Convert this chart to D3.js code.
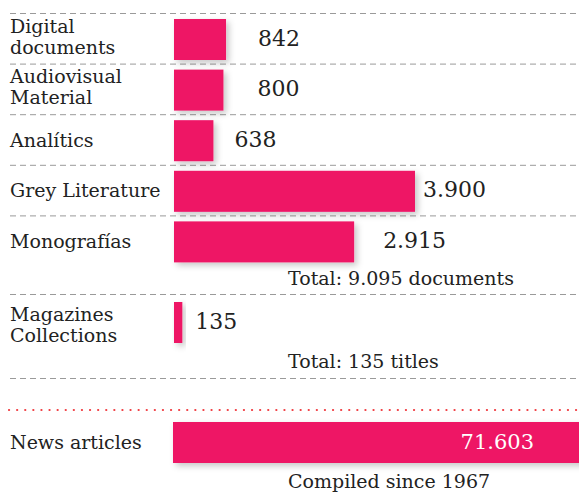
<!DOCTYPE html>
<html>
<head>
<meta charset="utf-8">
<script src="https://cdn.jsdelivr.net/npm/d3@7"></script>
<style>
  body { margin: 0; background: #fff; }
</style>
</head>
<body>
<div id="chart"></div>
<script>
// Data
const docCategories = ["Digital documents", "Audiovisual Material", "Analítics", "Grey Literature", "Monografías"];
const docLabelLines = [["Digital", "documents"], ["Audiovisual", "Material"], ["Analítics"], ["Grey Literature"], ["Monografías"]];
const docValues = [842, 800, 638, 3900, 2915];
const magCategory = ["Magazines Collections"];
const magLabelLines = [["Magazines", "Collections"]];
const magValues = [135];
const newsCategory = ["News articles"];
const newsValues = [71603];
const newsNote = "Compiled since 1967";

// layout: extra gap between bar end and its value label
const valueGap = [32, 34, 21, 8, 29];
const magValueGap = [13];

window.onload = function () {
  const W = 579, H = 497;
  const pink = "#ee1465";
  const ink = "#222";
  const font = "'DejaVu Serif', Georgia, serif";
  const x0 = 174, labelX = 10, noteX = 288;

  const es = d3.formatLocale({ decimal: ",", thousands: ".", grouping: [3], currency: ["", ""] });
  const fmt = es.format(",d");

  const svg = d3.select("#chart").append("svg")
    .attr("width", W).attr("height", H)
    .style("font-family", font);

  const defs = svg.append("defs");
  defs.append("filter").attr("id", "shadow")
    .attr("x", "-20%").attr("y", "-30%").attr("width", "160%").attr("height", "180%")
    .append("feDropShadow")
    .attr("dx", 3).attr("dy", 3).attr("stdDeviation", 3)
    .attr("flood-color", "#000").attr("flood-opacity", 0.22);

  // scales
  const x = d3.scaleLinear().domain([0, 3900]).range([0, 241]);
  const xNews = d3.scaleLinear().domain([0, 71603]).range([0, 420]);
  const y = d3.scaleBand().domain(docCategories).range([13, 266]).paddingInner(0);
  const barPad = 6, barH = 41;

  function dashed(yy) {
    svg.append("line")
      .attr("x1", labelX).attr("x2", W)
      .attr("y1", yy).attr("y2", yy)
      .attr("stroke", "#9a9a9a").attr("stroke-width", 1)
      .attr("stroke-dasharray", "6,4");
  }

  // separators
  docCategories.forEach(c => dashed(y(c) + 0.5));
  dashed(294.5);
  dashed(378.5);

  // red dotted line
  svg.append("line")
    .attr("x1", 9).attr("x2", W).attr("y1", 410).attr("y2", 410)
    .attr("stroke", "#f03a3f").attr("stroke-width", 2.2)
    .attr("stroke-linecap", "round")
    .attr("stroke-dasharray", "0.1,8");

  function drawRow(cat, lines, val, top, gap, twoLineDy) {
    const cy = top + barH / 2;
    svg.append("rect")
      .attr("x", x0).attr("y", top)
      .attr("width", x(val)).attr("height", barH)
      .attr("fill", pink).attr("filter", "url(#shadow)");

    const t = svg.append("text")
      .attr("x", labelX).attr("fill", ink).style("font-size", "19px");
    if (lines.length === 1) {
      t.attr("y", cy + 6).text(lines[0]);
    } else {
      lines.forEach((l, i) => {
        t.append("tspan").attr("x", labelX)
          .attr("y", cy + twoLineDy[i]).text(l);
      });
    }

    svg.append("text")
      .attr("x", x0 + x(val) + gap).attr("y", cy + 6)
      .attr("fill", ink).style("font-size", "22px")
      .text(fmt(val));
  }

  docCategories.forEach((c, i) => {
    drawRow(c, docLabelLines[i], docValues[i], y(c) + barPad, valueGap[i], [-7, 14]);
  });

  svg.append("text")
    .attr("x", noteX).attr("y", 285)
    .attr("fill", ink).style("font-size", "19px")
    .text(`Total: ${fmt(d3.sum(docValues))} documents`);

  magCategory.forEach((c, i) => {
    drawRow(c, magLabelLines[i], magValues[i], 302, magValueGap[i], [-2, 19]);
  });

  svg.append("text")
    .attr("x", noteX).attr("y", 368)
    .attr("fill", ink).style("font-size", "19px")
    .text(`Total: ${fmt(d3.sum(magValues))} titles`);

  // news articles
  newsCategory.forEach((c, i) => {
    const top = 422;
    const cy = top + barH / 2;
    svg.append("rect")
      .attr("x", x0 - 1).attr("y", top)
      .attr("width", xNews(newsValues[i])).attr("height", barH)
      .attr("fill", pink).attr("filter", "url(#shadow)");
    svg.append("text")
      .attr("x", labelX).attr("y", cy + 6)
      .attr("fill", ink).style("font-size", "19px")
      .text(c);
    svg.append("text")
      .attr("x", W - 45).attr("y", cy + 6)
      .attr("text-anchor", "end")
      .attr("fill", "#fff").style("font-size", "21px")
      .text(fmt(newsValues[i]));
  });

  svg.append("text")
    .attr("x", noteX).attr("y", 488)
    .attr("fill", ink).style("font-size", "19px")
    .text(newsNote);
};
</script>
</body>
</html>
